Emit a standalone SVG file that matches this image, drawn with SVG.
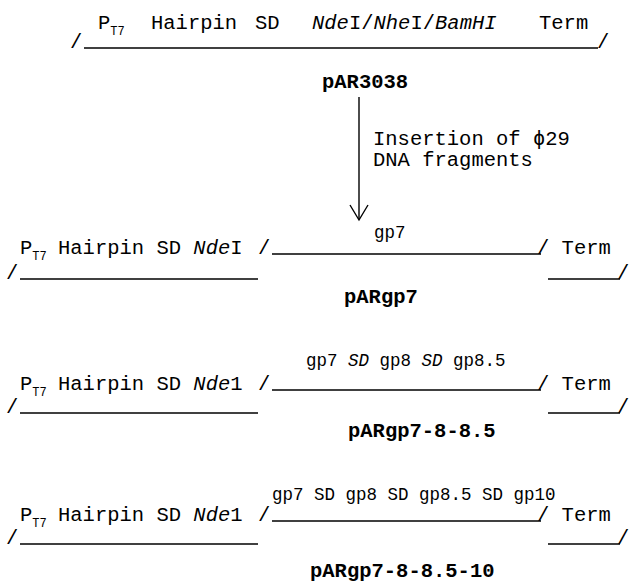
<svg xmlns="http://www.w3.org/2000/svg" width="631" height="586" viewBox="0 0 631 586">
<style>
text{font-family:"Liberation Mono","Courier New",monospace;fill:#000}
.t{font-size:20.5px}
.s{font-size:17.5px}
.sub{font-size:12px}
.b{font-size:20.5px;font-weight:bold}
.i{font-style:italic}
.ln{stroke:#000;stroke-width:1.4;fill:none}
</style>
<rect width="631" height="586" fill="#fff"/>
<g id="pAR3038">
<text class="t" x="98" y="29">P<tspan class="sub" dy="6">T7</tspan></text>
<text class="t" x="151" y="29">Hairpin</text>
<text class="t" x="255" y="29">SD</text>
<text class="t" x="312" y="29"><tspan class="i">Nde</tspan>I/<tspan class="i">Nhe</tspan>I/<tspan class="i">BamHI</tspan></text>
<text class="t" x="539" y="29">Term</text>
<text class="t" x="70" y="48">/</text>
<line class="ln" x1="84" y1="48" x2="598" y2="48"/>
<text class="t" x="597" y="48">/</text>
<text class="b" x="322" y="88">pAR3038</text>
</g>
<g id="connectors">
<line class="ln" x1="359" y1="97" x2="359" y2="219"/>
<polyline class="ln" points="350,205 359,220 368,205"/>
<text class="t" x="373" y="145">Insertion of ϕ29</text>
<text class="t" x="373" y="166">DNA fragments</text>
</g>
<g id="pARgp7">
<text class="s" x="374" y="238">gp7</text>
<text class="t" x="20" y="254">P<tspan class="sub" dy="6">T7</tspan></text>
<text class="t" x="58" y="254">Hairpin SD <tspan class="i">Nde</tspan>I</text>
<text class="t" x="258" y="254">/</text>
<line class="ln" x1="272" y1="254" x2="541" y2="254"/>
<text class="t" x="537" y="254">/ Term</text>
<text class="t" x="6" y="279">/</text>
<line class="ln" x1="20" y1="279" x2="258" y2="279"/>
<line class="ln" x1="548" y1="279" x2="620" y2="279"/>
<text class="t" x="617" y="279">/</text>
<text class="b" x="344" y="303">pARgp7</text>
</g>
<g id="pARgp7-8-8.5">
<text class="s" x="306" y="366">gp7 <tspan class="i">SD</tspan> gp8 <tspan class="i">SD</tspan> gp8.5</text>
<text class="t" x="20" y="390">P<tspan class="sub" dy="6">T7</tspan></text>
<text class="t" x="58" y="390">Hairpin SD <tspan class="i">Nde</tspan>1</text>
<text class="t" x="258" y="390">/</text>
<line class="ln" x1="272" y1="390" x2="541" y2="390"/>
<text class="t" x="537" y="390">/ Term</text>
<text class="t" x="6" y="413">/</text>
<line class="ln" x1="20" y1="413" x2="258" y2="413"/>
<line class="ln" x1="548" y1="413" x2="620" y2="413"/>
<text class="t" x="617" y="413">/</text>
<text class="b" x="348" y="437">pARgp7-8-8.5</text>
</g>
<g id="pARgp7-8-8.5-10">
<text class="s" x="272" y="500">gp7 SD gp8 SD gp8.5 SD gp10</text>
<text class="t" x="20" y="521">P<tspan class="sub" dy="6">T7</tspan></text>
<text class="t" x="58" y="521">Hairpin SD <tspan class="i">Nde</tspan>1</text>
<text class="t" x="258" y="521">/</text>
<line class="ln" x1="272" y1="521" x2="541" y2="521"/>
<text class="t" x="537" y="521">/ Term</text>
<text class="t" x="6" y="544">/</text>
<line class="ln" x1="20" y1="544" x2="258" y2="544"/>
<line class="ln" x1="548" y1="544" x2="620" y2="544"/>
<text class="t" x="617" y="544">/</text>
<text class="b" x="310" y="577">pARgp7-8-8.5-10</text>
</g>
</svg>
